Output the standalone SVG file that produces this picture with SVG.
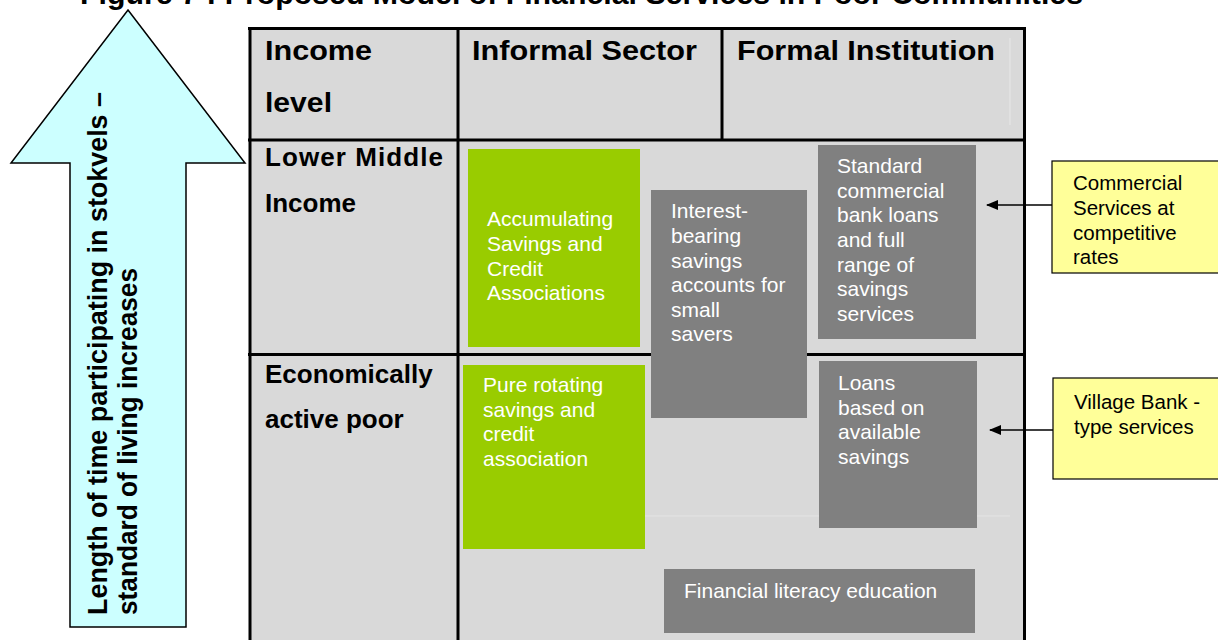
<svg xmlns="http://www.w3.org/2000/svg" width="1218" height="640" viewBox="0 0 1218 640">
  <style>
    .title { font-family: "Liberation Sans", Arial, sans-serif; font-weight: bold; font-size: 30px; fill: #000; }
    .head { font-family: "Liberation Sans", Arial, sans-serif; font-weight: bold; font-size: 28px; fill: #000; }
    .row { font-family: "Liberation Sans", Arial, sans-serif; font-weight: bold; font-size: 26px; fill: #000; }
    .side { font-family: "Liberation Sans", Arial, sans-serif; font-weight: bold; font-size: 27px; fill: #000; }
    .box { font-family: "Liberation Sans", Arial, sans-serif; font-size: 21px; fill: #fff; }
    .note { font-family: "Liberation Sans", Arial, sans-serif; font-size: 20.5px; fill: #000; }
    .grid { stroke: #000; stroke-width: 3; fill: none; }
    .green { fill: #99CC00; }
    .grey { fill: #808080; }
    .yellow { fill: #FFFF99; stroke: #000; stroke-width: 1.2; }
    .link { stroke: #000; stroke-width: 1.5; fill: none; }
  </style>
  <defs>
    <marker id="head" viewBox="0 0 12 10" refX="11" refY="5" markerWidth="12" markerHeight="10" markerUnits="userSpaceOnUse" orient="auto">
      <path d="M0,0 L12,5 L0,10 Z" fill="#000"/>
    </marker>
  </defs>

  <rect width="1218" height="640" fill="#fff"/>

  <!-- title, clipped at the top edge -->
  <text class="title" x="80" y="4" textLength="1003" lengthAdjust="spacingAndGlyphs">Figure 7 : Proposed Model of Financial Services in Poor Communities</text>

  <!-- upward arrow -->
  <g id="progress-arrow">
    <path d="M128,10 L245,163 L186,163 L186,627 L70,627 L70,163 L11,163 Z" fill="#CCFFFF" stroke="#000" stroke-width="1.5"/>
    <text class="side" transform="translate(107,615) rotate(-90)" textLength="523" lengthAdjust="spacingAndGlyphs">Length of time participating in stokvels –</text>
    <text class="side" transform="translate(137,615) rotate(-90)" textLength="347" lengthAdjust="spacingAndGlyphs">standard of living increases</text>
  </g>

  <!-- table -->
  <g id="table">
    <rect x="249" y="28" width="776" height="612" fill="#D9D9D9"/>
    <line x1="1010" y1="38" x2="1010" y2="125" stroke="#e8e8e8" stroke-width="1"/>
    <line x1="645" y1="516" x2="1010" y2="516" stroke="#e4e4e4" stroke-width="1"/>
    <path class="grid" d="M248,28.5 H1026 M250,28 V640 M1024.5,28 V640 M248,140 H1026 M248,354.5 H1026 M458,28 V640 M722,28 V140"/>
    <text class="head" x="265" y="60" textLength="107" lengthAdjust="spacingAndGlyphs">Income</text>
    <text class="head" x="265" y="112" textLength="67" lengthAdjust="spacingAndGlyphs">level</text>
    <text class="head" x="472" y="60" textLength="225" lengthAdjust="spacingAndGlyphs">Informal Sector</text>
    <text class="head" x="737" y="60" textLength="258" lengthAdjust="spacingAndGlyphs">Formal Institution</text>
    <text class="row" x="265" y="166" textLength="178" lengthAdjust="spacing">Lower Middle</text>
    <text class="row" x="265" y="212">Income</text>
    <text class="row" x="265" y="383">Economically</text>
    <text class="row" x="265" y="428">active poor</text>
  </g>

  <g id="ascas">
    <rect class="green" x="468" y="149" width="172" height="198"/>
    <text class="box" x="487" y="226">Accumulating</text>
    <text class="box" x="487" y="251">Savings and</text>
    <text class="box" x="487" y="276">Credit</text>
    <text class="box" x="487" y="300">Associations</text>
  </g>

  <g id="roscas">
    <rect class="green" x="463" y="365" width="182" height="184"/>
    <text class="box" x="483" y="392">Pure rotating</text>
    <text class="box" x="483" y="417">savings and</text>
    <text class="box" x="483" y="441">credit</text>
    <text class="box" x="483" y="466">association</text>
  </g>

  <g id="savings-accounts">
    <rect class="grey" x="651" y="190" width="156" height="228"/>
    <text class="box" x="671" y="218">Interest-</text>
    <text class="box" x="671" y="243">bearing</text>
    <text class="box" x="671" y="268">savings</text>
    <text class="box" x="671" y="292">accounts for</text>
    <text class="box" x="671" y="317">small</text>
    <text class="box" x="671" y="341">savers</text>
  </g>

  <g id="commercial-loans">
    <rect class="grey" x="818" y="145" width="158" height="194"/>
    <text class="box" x="837" y="173">Standard</text>
    <text class="box" x="837" y="198">commercial</text>
    <text class="box" x="837" y="222">bank loans</text>
    <text class="box" x="837" y="247">and full</text>
    <text class="box" x="837" y="272">range of</text>
    <text class="box" x="837" y="296">savings</text>
    <text class="box" x="837" y="321">services</text>
  </g>

  <g id="savings-loans">
    <rect class="grey" x="819" y="361" width="158" height="167"/>
    <text class="box" x="838" y="390">Loans</text>
    <text class="box" x="838" y="415">based on</text>
    <text class="box" x="838" y="439">available</text>
    <text class="box" x="838" y="464">savings</text>
  </g>

  <g id="literacy">
    <rect class="grey" x="664" y="569" width="311" height="64"/>
    <text class="box" x="684" y="598">Financial literacy education</text>
  </g>

  <g id="commercial-note">
    <rect class="yellow" x="1052" y="161" width="170" height="112"/>
    <text class="note" x="1073" y="190">Commercial</text>
    <text class="note" x="1073" y="215">Services at</text>
    <text class="note" x="1073" y="240">competitive</text>
    <text class="note" x="1073" y="264">rates</text>
  </g>

  <g id="village-note">
    <rect class="yellow" x="1053" y="378" width="170" height="101"/>
    <text class="note" x="1074" y="409">Village Bank -</text>
    <text class="note" x="1074" y="434">type services</text>
  </g>

  <g id="connectors">
    <line class="link" x1="1052" y1="205" x2="987" y2="205" marker-end="url(#head)"/>
    <line class="link" x1="1053" y1="430" x2="990" y2="430" marker-end="url(#head)"/>
  </g>
</svg>
